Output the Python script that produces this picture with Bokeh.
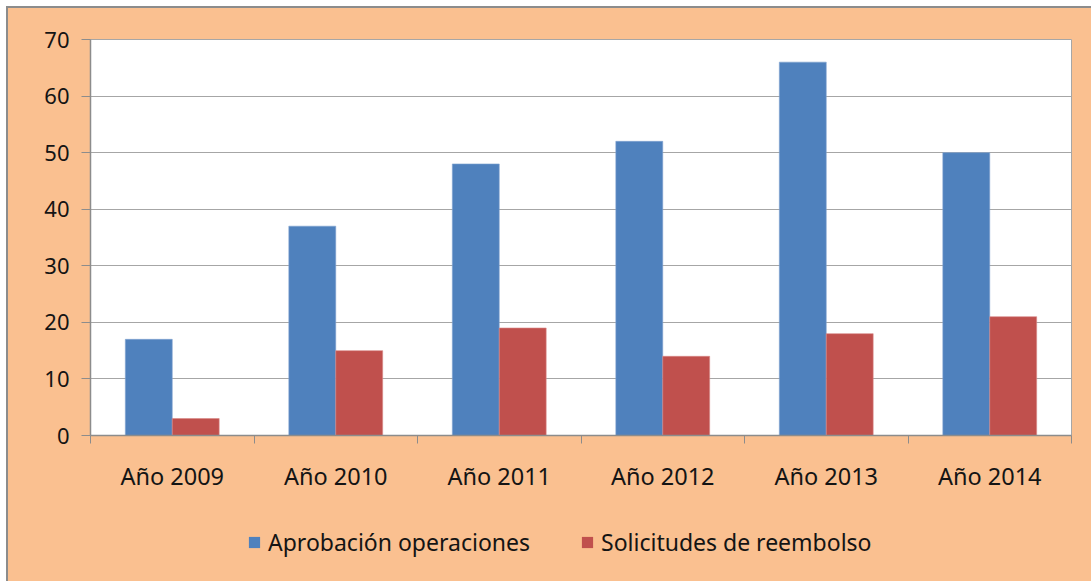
from bokeh.plotting import figure
from bokeh.layouts import column
from bokeh.models import FixedTicker, Range1d, ColumnDataSource, Legend, LegendItem
from bokeh.transform import dodge
from bokeh.embed import file_html
from bokeh.resources import INLINE

years = ["Año 2009", "Año 2010", "Año 2011", "Año 2012", "Año 2013", "Año 2014"]
aprobacion = [17, 37, 48, 52, 66, 50]
solicitudes = [3, 15, 19, 14, 18, 21]
y_ticks = [0, 10, 20, 30, 40, 50, 60, 70]
series_names = ["Aprobación operaciones", "Solicitudes de reembolso"]

BG = "#FAC090"
BLUE = "#4F81BD"
RED = "#C0504D"
GRID = "#A6A6A6"
AX = "#8c8c8c"
FONT = "Noto Sans"
TXT = "#141414"

centers = [i + 0.5 for i in range(len(years))]
src = ColumnDataSource(dict(x=centers, a=aprobacion, s=solicitudes))

W = 1083
H_MAIN = 494
H_LEG = 79

p = figure(width=W, height=H_MAIN, output_backend="svg", toolbar_location=None,
           x_range=Range1d(0, len(years)), y_range=Range1d(0, 70),
           min_border_left=82, min_border_top=31, min_border_right=20, min_border_bottom=67)
p.background_fill_color = "white"
p.border_fill_color = BG
p.outline_line_color = GRID
p.outline_line_width = 1

bw = 0.287
r1 = p.vbar(x=dodge("x", -bw / 2, range=p.x_range), top="a", width=bw, source=src,
            fill_color=BLUE, line_color="#7FA3D0", line_width=0.6)
r2 = p.vbar(x=dodge("x", bw / 2, range=p.x_range), top="s", width=bw, source=src,
            fill_color=RED, line_color="#D88886", line_width=0.6)

# x axis
p.xaxis.ticker = FixedTicker(ticks=centers, minor_ticks=list(range(len(years) + 1)))
p.xaxis.major_label_overrides = {c: y for c, y in zip(centers, years)}
p.xaxis.major_tick_out = 0
p.xaxis.major_tick_in = 0
p.xaxis.minor_tick_out = 8
p.xaxis.minor_tick_in = 0
p.xaxis.minor_tick_line_color = AX
p.xaxis.axis_line_color = AX
p.xaxis.axis_line_width = 1.5
p.xaxis.major_label_standoff = 16
p.xaxis.major_label_text_font = FONT
p.xaxis.major_label_text_font_size = "23.5px"
p.xaxis.major_label_text_color = TXT

# y axis
p.yaxis.ticker = FixedTicker(ticks=y_ticks, minor_ticks=[])
p.yaxis.major_tick_out = 9
p.yaxis.major_tick_in = 0
p.yaxis.major_tick_line_color = AX
p.yaxis.axis_line_color = AX
p.yaxis.axis_line_width = 1.5
p.yaxis.major_label_standoff = 12
p.yaxis.major_label_text_font = FONT
p.yaxis.major_label_text_font_size = "22px"
p.yaxis.major_label_text_color = TXT

p.xgrid.grid_line_color = None
p.ygrid.grid_line_color = GRID
p.ygrid.grid_line_width = 1.2

# legend strip (same series, drawn out of view so only the legend shows)
lf = figure(width=W, height=H_LEG, output_backend="svg", toolbar_location=None,
            x_range=Range1d(0, len(years)), y_range=Range1d(1000, 1001),
            min_border=0)
lf.axis.visible = False
lf.grid.visible = False
lf.outline_line_color = None
lf.background_fill_alpha = 0
lf.border_fill_color = BG
l1 = lf.vbar(x="x", top="a", width=bw, source=src, fill_color=BLUE, line_color=None)
l2 = lf.vbar(x="x", top="s", width=bw, source=src, fill_color=RED, line_color=None)

legend = Legend(items=[LegendItem(label=series_names[0], renderers=[l1]),
                       LegendItem(label=series_names[1], renderers=[l2])],
                orientation="horizontal", location=(150, 16))
legend.background_fill_alpha = 0
legend.border_line_alpha = 0
legend.label_text_font = FONT
legend.label_text_font_size = "23px"
legend.label_text_color = TXT
legend.glyph_width = 14
legend.glyph_height = 14
legend.label_standoff = 7
legend.spacing = 50
legend.margin = 0
legend.padding = 7
lf.add_layout(legend, "center")

layout = column(p, lf, spacing=0,
                styles={"margin-left": "8px", "margin-top": "8px",
                        "background-color": BG,
                        "box-shadow": "-1px -1px 0 1px #8c8c8c"})

open("out.html", "w").write(file_html(layout, INLINE))
